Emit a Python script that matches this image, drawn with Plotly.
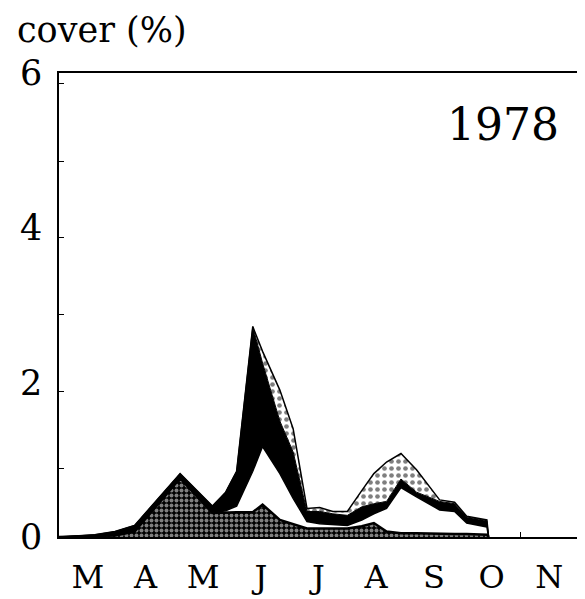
import plotly.graph_objects as go

# time axis in months since 1 March (0 = Mar 1, 9 = Dec 1)
x_month = [0.00, 0.62, 0.97, 1.31, 2.10, 2.66, 2.89, 3.08, 3.36, 3.53, 3.83, 4.06,
           4.30, 4.52, 4.75, 5.00, 5.25, 5.46, 5.68, 5.93, 6.20, 6.60, 6.86, 7.07,
           7.42, 7.45]

# stacked layer thicknesses (cover %)
checker = [0, 0.01, 0.02, 0.07, 0.76, 0.31, 0.32, 0.32, 0.32, 0.42, 0.22, 0.17,
           0.11, 0.11, 0.11, 0.11, 0.14, 0.18, 0.07, 0.05, 0.05, 0.04, 0.04, 0.04,
           0.03, 0]
white = [0, 0, 0, 0, 0, 0, 0.02, 0.08, 0.53, 0.75, 0.60, 0.33,
         0.09, 0.06, 0.05, 0.04, 0.08, 0.12, 0.30, 0.59, 0.47, 0.31, 0.29, 0.14,
         0.10, 0]
black = [0, 0.02, 0.05, 0.08, 0.06, 0.09, 0.24, 0.45, 1.87, 1.08, 0.68, 0.60,
         0.13, 0.16, 0.14, 0.13, 0.17, 0.13, 0.09, 0.11, 0.06, 0.11, 0.10, 0.08,
         0.08, 0]
dots = [0, 0, 0, 0, 0, 0, 0, 0, 0, 0.15, 0.40, 0.30,
        0.04, 0.05, 0.03, 0.05, 0.21, 0.39, 0.51, 0.33, 0.29, 0.02, 0.02, 0.01,
        0.01, 0]

month_pos = [0.5, 1.5, 2.5, 3.5, 4.5, 5.5, 6.5, 7.5, 8.5]
month_labels = ["M", "A", "M", "J", "J", "A", "S", "O", "N"]
month_bounds = [1, 2, 3, 4, 5, 6, 7, 8]
y_labels = [0, 2, 4, 6]
y_minor = [0.89, 1.88, 2.88, 3.87, 4.86, 5.86]

FONT = "DejaVu Serif"

fig = go.Figure()
fig.add_trace(go.Scatter(
    x=x_month, y=checker, stackgroup="s", mode="lines",
    line=dict(color="black", width=2.5),
    fillcolor="black",
    fillpattern=dict(shape=".", bgcolor="black", fgcolor="white", size=5, solidity=0.5),
    showlegend=False, hoverinfo="skip"))
fig.add_trace(go.Scatter(
    x=x_month, y=white, stackgroup="s", mode="lines",
    line=dict(color="black", width=1.5), fillcolor="white",
    showlegend=False, hoverinfo="skip"))
fig.add_trace(go.Scatter(
    x=x_month, y=black, stackgroup="s", mode="lines",
    line=dict(color="black", width=1), fillcolor="black",
    showlegend=False, hoverinfo="skip"))
fig.add_trace(go.Scatter(
    x=x_month, y=dots, stackgroup="s", mode="lines",
    line=dict(color="black", width=1.5),
    fillcolor="white",
    fillpattern=dict(shape=".", bgcolor="white", fgcolor="black", size=7, solidity=0.35),
    showlegend=False, hoverinfo="skip"))

# the page body adds an 8px offset, so the figure is 8px smaller than the window
fig.update_layout(
    width=577, height=591,
    margin=dict(l=51, r=7, t=65, b=62, autoexpand=False),
    paper_bgcolor="white", plot_bgcolor="white",
    font=dict(family=FONT, color="black"),
    xaxis=dict(range=[0, 9], showgrid=False, zeroline=False, automargin=False,
               showline=True, mirror=True, linecolor="black", linewidth=1.5,
               tickvals=month_pos, ticktext=month_labels, ticks="",
               tickfont=dict(size=32, family=FONT), ticklabelstandoff=11,
               minor=dict(tickvals=month_bounds, ticks="inside", ticklen=5,
                          tickcolor="black", tickwidth=1),
               layer="below traces"),
    yaxis=dict(range=[0, 6], showgrid=False, zeroline=False, automargin=False,
               showline=True, mirror=True, linecolor="black", linewidth=1.5,
               tickvals=y_labels, ticks="",
               tickfont=dict(size=35, family=FONT), ticklabelstandoff=8,
               minor=dict(tickvals=y_minor, ticks="inside", ticklen=5,
                          tickcolor="black", tickwidth=1)),
    annotations=[
        dict(text="cover (%)", xref="paper", yref="paper", x=-0.085, y=1.092,
             xanchor="left", yanchor="middle", showarrow=False,
             font=dict(size=35, family=FONT)),
        dict(text="1978", xref="x", yref="y", x=8.7, y=5.33,
             xanchor="right", yanchor="middle", showarrow=False,
             font=dict(size=44, family=FONT)),
    ],
)

fig.write_html("out.html")
